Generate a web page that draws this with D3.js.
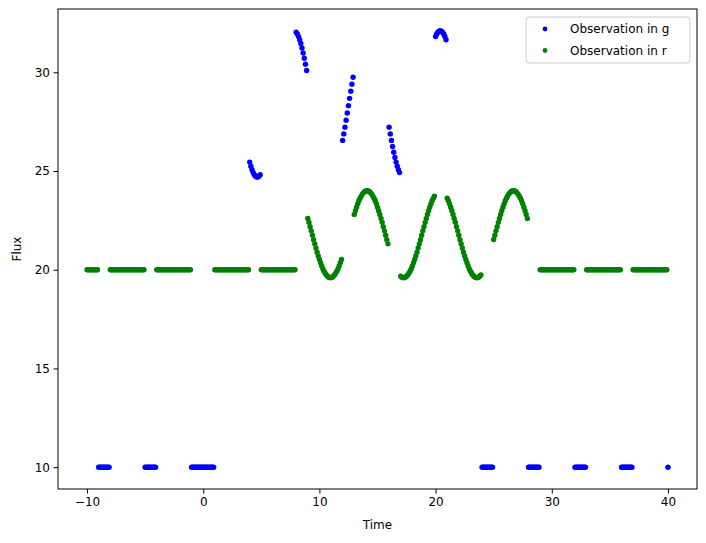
<!DOCTYPE html>
<html><head><meta charset="utf-8">
<script src="https://cdn.jsdelivr.net/npm/d3@7"></script>
<style>body{margin:0;background:#fff} svg text{font-family:"DejaVu Sans",sans-serif}</style>
</head><body><svg id="c" width="706" height="543"></svg>
<script>
// ---- data ----
const cadence = 0.1;
const xTicks = [-10, 0, 10, 20, 30, 40];
const yTicks = [10, 15, 20, 25, 30];
const seriesNames = ["Observation in g", "Observation in r"];
const seriesColors = ["blue", "green"];

// observation windows [start, end] (inclusive, sampled at cadence)
const gWindows = [[-9.0,-8.1],[-5.0,-4.1],[-1.0,0.9],[4.0,4.9],[8.0,8.9],[12.0,12.9],[16.0,16.9],[20.0,20.9],[24.0,24.9],[28.0,28.9],[32.0,32.9],[36.0,36.9],[40.0,40.0]];
// flux per window: single number = flat level, array = value per sample
const gFlux = [
  10, 10, 10,
  [25.45,25.24,25.07,24.92,24.81,24.74,24.70,24.70,24.74,24.81],
  [32.03,31.94,31.81,31.65,31.46,31.23,30.98,30.71,30.41,30.09],
  [26.55,26.88,27.22,27.57,27.94,28.31,28.68,29.04,29.40,29.75],
  [27.22,26.88,26.55,26.24,25.95,25.69,25.45,25.24,25.07,24.92],
  [31.81,31.94,32.03,32.08,32.10,32.08,32.03,31.94,31.81,31.65],
  10, 10, 10, 10, 10
];

const rWindows = [[-10.0,-9.1],[-8.0,-5.1],[-4.0,-1.1],[1.0,3.9],[5.0,7.9],[9.0,11.9],[13.0,15.9],[17.0,19.9],[21.0,23.9],[25.0,27.9],[29.0,31.9],[33.0,35.9],[37.0,39.9]];
const rFlux = [
  20, 20, 20, 20, 20,
  [22.60,22.40,22.18,21.97,21.75,21.52,21.31,21.10,20.89,20.70,
   20.52,20.35,20.19,20.04,19.92,19.82,19.73,19.67,19.62,19.60,
   19.60,19.62,19.67,19.73,19.82,19.92,20.04,20.19,20.35,20.52],
  [22.80,22.99,23.17,23.34,23.49,23.62,23.73,23.83,23.90,23.96,
   23.99,24.00,23.99,23.96,23.90,23.83,23.73,23.62,23.49,23.34,
   23.17,22.99,22.80,22.60,22.40,22.18,21.97,21.75,21.52,21.31],
  [19.67,19.62,19.60,19.60,19.62,19.67,19.73,19.82,19.92,20.04,
   20.19,20.35,20.52,20.70,20.89,21.10,21.31,21.52,21.75,21.97,
   22.18,22.40,22.60,22.80,22.99,23.17,23.34,23.49,23.62,23.73],
  [23.62,23.49,23.34,23.17,22.99,22.80,22.60,22.40,22.18,21.97,
   21.75,21.52,21.31,21.10,20.89,20.70,20.52,20.35,20.19,20.04,
   19.92,19.82,19.73,19.67,19.62,19.60,19.60,19.62,19.67,19.73],
  [21.53,21.75,21.97,22.18,22.40,22.60,22.80,22.99,23.17,23.34,
   23.49,23.62,23.73,23.83,23.90,23.96,23.99,24.00,23.99,23.96,
   23.90,23.83,23.73,23.62,23.49,23.34,23.17,22.99,22.80,22.60],
  20, 20, 20
];

// ---- build points ----
function buildPoints(windows, flux) {
  const pts = [];
  windows.forEach(([s, e], i) => {
    const n = Math.round((e - s) / cadence) + 1;
    const v = flux[i];
    for (let k = 0; k < n; k++) {
      pts.push({ t: +(s + k * cadence).toFixed(2), f: Array.isArray(v) ? v[k] : v });
    }
  });
  return pts;
}
const gPts = buildPoints(gWindows, gFlux);
const rPts = buildPoints(rWindows, rFlux);
const series = [gPts, rPts];

// ---- layout ----
const svg = d3.select("#c");
const L = 58, R = 697, T = 9, B = 489;

const all = gPts.concat(rPts);
const [xmin, xmax] = d3.extent(all, d => d.t);
const [ymin, ymax] = d3.extent(all, d => d.f);
const xpad = (xmax - xmin) * 0.05, ypad = (ymax - ymin) * 0.05;
const x = d3.scaleLinear().domain([xmin - xpad, xmax + xpad]).range([L, R]);
const y = d3.scaleLinear().domain([ymin - ypad, ymax + ypad]).range([B, T]);

const fmt = d => String(d).replace("-", "\u2212");

// axes
const xAxis = svg.append("g").attr("transform", `translate(0,${B})`)
  .call(d3.axisBottom(x).tickValues(xTicks).tickFormat(fmt).tickSize(4.5).tickPadding(3.5));
const yAxis = svg.append("g").attr("transform", `translate(${L},0)`)
  .call(d3.axisLeft(y).tickValues(yTicks).tickFormat(fmt).tickSize(4.5).tickPadding(3.5));
[xAxis, yAxis].forEach(a => {
  a.select(".domain").remove();
  a.selectAll(".tick line").attr("stroke", "#000").attr("stroke-width", 1);
  a.selectAll(".tick text").attr("fill", "#000").style("font-size", "12px")
   .style("font-family", '"DejaVu Sans", sans-serif');
});

// points
series.forEach((pts, i) => {
  svg.append("g").selectAll("circle").data(pts).join("circle")
    .attr("cx", d => x(d.t)).attr("cy", d => y(d.f))
    .attr("r", 2.7).attr("fill", seriesColors[i]);
});

// frame
svg.append("rect").attr("x", L).attr("y", T).attr("width", R - L).attr("height", B - T)
  .attr("fill", "none").attr("stroke", "#000").attr("stroke-width", 1);

// axis labels
svg.append("text").attr("x", (L + R) / 2).attr("y", 529).attr("text-anchor", "middle")
  .style("font-size", "12px").text("Time");
svg.append("text").attr("transform", `translate(21,${(T + B) / 2}) rotate(-90)`)
  .attr("text-anchor", "middle").style("font-size", "12px").text("Flux");

// legend
const lg = svg.append("g");
lg.append("rect").attr("x", 526).attr("y", 17).attr("width", 164).attr("height", 46)
  .attr("rx", 3).attr("fill", "#fff").attr("fill-opacity", 0.8).attr("stroke", "#ccc");
seriesNames.forEach((name, i) => {
  const yy = 29 + i * 21.5;
  lg.append("circle").attr("cx", 545).attr("cy", yy).attr("r", 2.4).attr("fill", seriesColors[i]);
  lg.append("text").attr("x", 570).attr("y", yy + 4.3).style("font-size", "12px").text(name);
});
</script></body></html>
